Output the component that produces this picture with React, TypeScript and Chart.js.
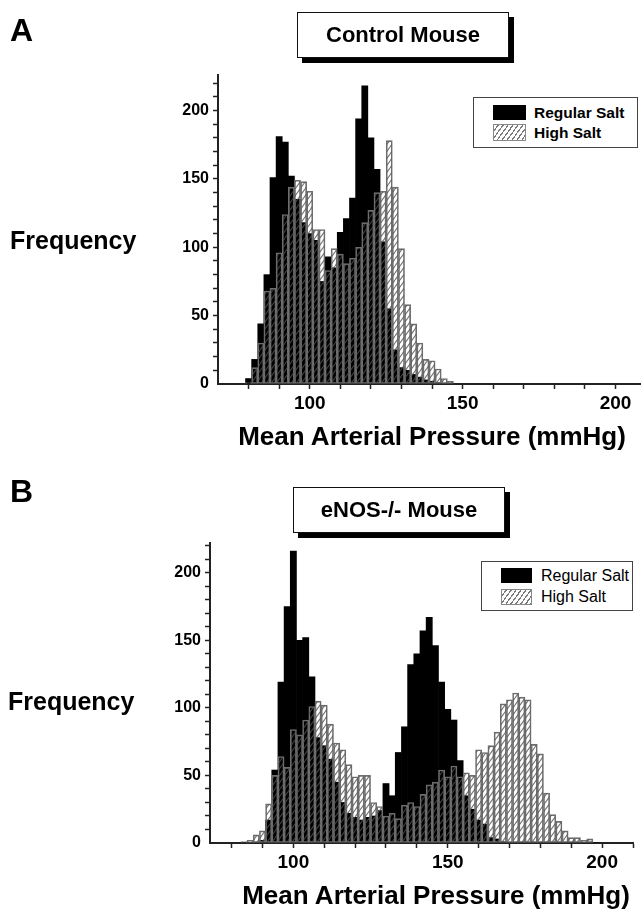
import React, { useEffect, useRef } from 'react';
import { Chart, registerables } from 'chart.js';

Chart.register(...registerables);

// ---------- DATA ----------
const binsA = [80, 82, 84, 86, 88, 90, 92, 94, 96, 98, 100, 102, 104, 106, 108, 110, 112, 114, 116, 118, 120, 122, 124, 126, 128, 130, 132, 134, 136, 138, 140, 142, 144, 146];
const regularA = [4, 18, 44, 80, 151, 181, 177, 152, 135, 118, 110, 105, 75, 93, 85, 111, 121, 136, 194, 218, 180, 157, 104, 55, 25, 12, 10, 7, 5, 3, 2, 1, 0, 0];
const highA = [1, 12, 30, 68, 70, 96, 124, 144, 149, 148, 141, 113, 113, 83, 99, 95, 88, 92, 100, 118, 127, 140, 141, 178, 144, 99, 58, 44, 30, 18, 17, 11, 4, 2];

const binsB = [84, 86, 88, 90, 92, 94, 96, 98, 100, 102, 104, 106, 108, 110, 112, 114, 116, 118, 120, 122, 124, 126, 128, 130, 132, 134, 136, 138, 140, 142, 144, 146, 148, 150, 152, 154, 156, 158, 160, 162, 164, 166, 168, 170, 172, 174, 176, 178, 180, 182, 184, 186, 188, 190, 192, 194, 196, 198];
const regularB = [0, 0, 0, 2, 17, 54, 119, 175, 216, 150, 152, 123, 78, 72, 62, 45, 30, 22, 19, 17, 19, 20, 24, 44, 35, 67, 86, 132, 140, 157, 167, 146, 119, 99, 91, 61, 35, 25, 17, 14, 4, 3, 1, 0, 0, 0, 0, 0, 0, 0, 0, 0, 0, 0, 0, 0, 0, 0];
const highB = [1, 2, 6, 9, 29, 50, 64, 56, 84, 80, 91, 101, 105, 102, 88, 74, 69, 58, 49, 50, 50, 30, 27, 20, 22, 18, 28, 30, 27, 36, 43, 45, 54, 49, 57, 49, 52, 50, 69, 67, 72, 82, 103, 106, 111, 108, 106, 73, 66, 37, 21, 16, 9, 4, 4, 2, 3, 0];

const yLabelStep = 50;
const xLabelValues = [100, 150, 200];
const seriesNames = ['Regular Salt', 'High Salt'];
const xTitle = 'Mean Arterial Pressure (mmHg)';
const yTitle = 'Frequency';

const FONT = '"Liberation Sans", Arial, Helvetica, sans-serif';

const near = (a: number, b: number) => Math.abs(a - b) < 1e-6;

function makeHatch(): CanvasPattern | string {
  const c = document.createElement('canvas');
  c.width = 5;
  c.height = 7;
  const g = c.getContext('2d');
  if (!g) return '#888';
  g.strokeStyle = 'rgba(80,80,80,0.8)';
  g.lineWidth = 1.1;
  for (const dx of [-5, 0, 5]) {
    g.beginPath();
    g.moveTo(dx, 7);
    g.lineTo(dx + 5, 0);
    g.stroke();
  }
  return g.createPattern(c, 'repeat') || '#888';
}

type Area = { left: number; top: number; right: number; bottom: number };

function Panel(props: {
  top: number;
  width: number;
  height: number;
  area: Area;
  bins: number[];
  regular: number[];
  high: number[];
  xMin: number;
  xMax: number;
  yMax: number;
}) {
  const ref = useRef<HTMLCanvasElement>(null);
  useEffect(() => {
    const { width, height, area, bins, regular, high, xMin, xMax, yMax } = props;
    const hatch = makeHatch();
    const tickFontY = { family: FONT, size: 16, weight: 'bold' as const };
    const tickFontX = { family: FONT, size: 19, weight: 'bold' as const };
    const isMult10 = (v: number) => near(v / 10, Math.round(v / 10));
    const chart = new Chart(ref.current as HTMLCanvasElement, {
      type: 'bar',
      data: {
        datasets: [
          {
            label: seriesNames[1],
            data: bins.map((b, i) => ({ x: b, y: high[i] })),
            backgroundColor: hatch as any,
            borderColor: '#6e6e6e',
            borderWidth: 1,
            borderSkipped: false,
            order: 0,
            grouped: false,
            barPercentage: 1,
            categoryPercentage: 1,
          },
          {
            label: seriesNames[0],
            data: bins.map((b, i) => ({ x: b, y: regular[i] })),
            backgroundColor: '#000',
            borderWidth: 0,
            order: 1,
            grouped: false,
            barPercentage: 1,
            categoryPercentage: 1,
          },
        ],
      } as any,
      options: {
        responsive: false,
        animation: false,
        devicePixelRatio: 1,
        layout: { padding: { left: 0, top: area.top, right: width - area.right, bottom: 0 } },
        plugins: { legend: { display: false }, tooltip: { enabled: false } },
        scales: {
          x: {
            type: 'linear',
            min: xMin,
            max: xMax,
            offset: false,
            ticks: {
              stepSize: 10,
              includeBounds: false,
              autoSkip: false,
              maxRotation: 0,
              color: '#000',
              padding: 3,
              font: tickFontX,
              callback: (v: any) => {
                const n = Number(v);
                const hit = xLabelValues.find((L) => near(L, n));
                return hit !== undefined ? String(hit) : '';
              },
            },
            grid: {
              offset: false,
              drawOnChartArea: false,
              drawTicks: true,
              tickLength: 5,
              tickWidth: 1.5,
              tickColor: (ctx: any) =>
                ctx.tick && isMult10(Number(ctx.tick.value)) && Number(ctx.tick.value) > xMin + 0.5 ? '#222' : 'rgba(0,0,0,0)',
            },
            border: { display: true, color: '#222', width: 2 },
            afterFit: (s: any) => {
              s.height = height - area.bottom;
            },
          },
          y: {
            min: 0,
            max: yMax,
            ticks: {
              stepSize: 10,
              includeBounds: false,
              autoSkip: false,
              color: '#000',
              padding: 4,
              font: tickFontY,
              callback: (v: any) => {
                const n = Number(v);
                const r = Math.round(n / yLabelStep) * yLabelStep;
                return near(n, r) ? String(r) : '';
              },
            },
            grid: {
              drawOnChartArea: false,
              drawTicks: true,
              tickLength: 5,
              tickWidth: 1.5,
              tickColor: (ctx: any) =>
                ctx.tick && isMult10(Number(ctx.tick.value)) && Number(ctx.tick.value) > 0.5 ? '#222' : 'rgba(0,0,0,0)',
            },
            border: { display: true, color: '#222', width: 2 },
            afterFit: (s: any) => {
              s.width = area.left;
            },
          },
        },
      } as any,
    });
    return () => chart.destroy();
  }, []);
  return (
    <canvas
      ref={ref}
      width={props.width}
      height={props.height}
      style={{ position: 'absolute', left: 0, top: props.top, width: props.width, height: props.height }}
    />
  );
}

const txt = (
  left: number,
  top: number,
  size: number,
  bold: boolean,
  text: string,
  extra: React.CSSProperties = {}
) => (
  <div
    style={{
      position: 'absolute',
      left,
      top,
      fontFamily: FONT,
      fontSize: size,
      lineHeight: `${size}px`,
      fontWeight: bold ? 700 : 400,
      whiteSpace: 'nowrap',
      color: '#000',
      ...extra,
    }}
  >
    {text}
  </div>
);

const hatchCss =
  'repeating-linear-gradient(126deg, #fff 0px, #fff 2.8px, #7a7a7a 2.8px, #7a7a7a 4px)';

function TitleBox(props: { left: number; top: number; text: string }) {
  return (
    <div
      style={{
        position: 'absolute',
        left: props.left,
        top: props.top,
        width: 212,
        height: 46,
        boxSizing: 'border-box',
        border: '1.5px solid #111',
        background: '#fff',
        boxShadow: '5px 5px 0 #000',
        display: 'flex',
        alignItems: 'center',
        justifyContent: 'center',
        fontFamily: FONT,
        fontWeight: 700,
        fontSize: 22,
        lineHeight: '22px',
        whiteSpace: 'nowrap',
      }}
    >
      {props.text}
    </div>
  );
}

function Legend(props: {
  left: number;
  top: number;
  width: number;
  height: number;
  sw: { left: number; top1: number; top2: number; w: number; h1: number; h2: number };
  textLeft: number;
  textTop1: number;
  textTop2: number;
  size: number;
  bold: boolean;
}) {
  const { sw } = props;
  return (
    <>
      <div
        style={{
          position: 'absolute',
          left: props.left,
          top: props.top,
          width: props.width,
          height: props.height,
          boxSizing: 'border-box',
          border: '1px solid #444',
          background: '#fff',
        }}
      />
      <div style={{ position: 'absolute', left: sw.left, top: sw.top1, width: sw.w, height: sw.h1, background: '#000' }} />
      <div
        style={{
          position: 'absolute',
          left: sw.left,
          top: sw.top2,
          width: sw.w,
          height: sw.h2,
          boxSizing: 'border-box',
          border: '1px solid #888',
          background: hatchCss,
        }}
      />
      {txt(props.textLeft, props.textTop1, props.size, props.bold, seriesNames[0])}
      {txt(props.textLeft, props.textTop2, props.size, props.bold, seriesNames[1])}
    </>
  );
}

export default function App() {
  return (
    <div style={{ position: 'absolute', left: 0, top: 0, width: 642, height: 915, background: '#fff', overflow: 'hidden' }}>
      {/* Panel A */}
      <Panel
        top={0}
        width={642}
        height={460}
        area={{ left: 218, top: 75, right: 640, bottom: 384 }}
        bins={binsA}
        regular={regularA}
        high={highA}
        xMin={70}
        xMax={208}
        yMax={226}
      />
      {txt(10, 14, 32, true, 'A')}
      <TitleBox left={297} top={12} text="Control Mouse" />
      <Legend
        left={473}
        top={97}
        width={165}
        height={51}
        sw={{ left: 493, top1: 105, top2: 124, w: 33, h1: 15, h2: 17 }}
        textLeft={534}
        textTop1={105}
        textTop2={125}
        size={15.5}
        bold={true}
      />
      {txt(10, 228, 25, true, yTitle)}
      {txt(0, 423, 26, true, xTitle, { width: 864, textAlign: 'center' })}

      {/* Panel B */}
      <Panel
        top={460}
        width={642}
        height={455}
        area={{ left: 210, top: 83, right: 633, bottom: 383 }}
        bins={binsB}
        regular={regularB}
        high={highB}
        xMin={73}
        xMax={210}
        yMax={222}
      />
      {txt(10, 475, 32, true, 'B')}
      <TitleBox left={293} top={487} text="eNOS-/- Mouse" />
      <Legend
        left={481}
        top={561}
        width={152}
        height={50}
        sw={{ left: 501, top1: 568, top2: 589, w: 31, h1: 15, h2: 16 }}
        textLeft={541}
        textTop1={568}
        textTop2={589}
        size={16}
        bold={false}
      />
      {txt(8, 689, 25, true, yTitle)}
      {txt(0, 882, 26, true, xTitle, { width: 872, textAlign: 'center' })}
    </div>
  );
}
